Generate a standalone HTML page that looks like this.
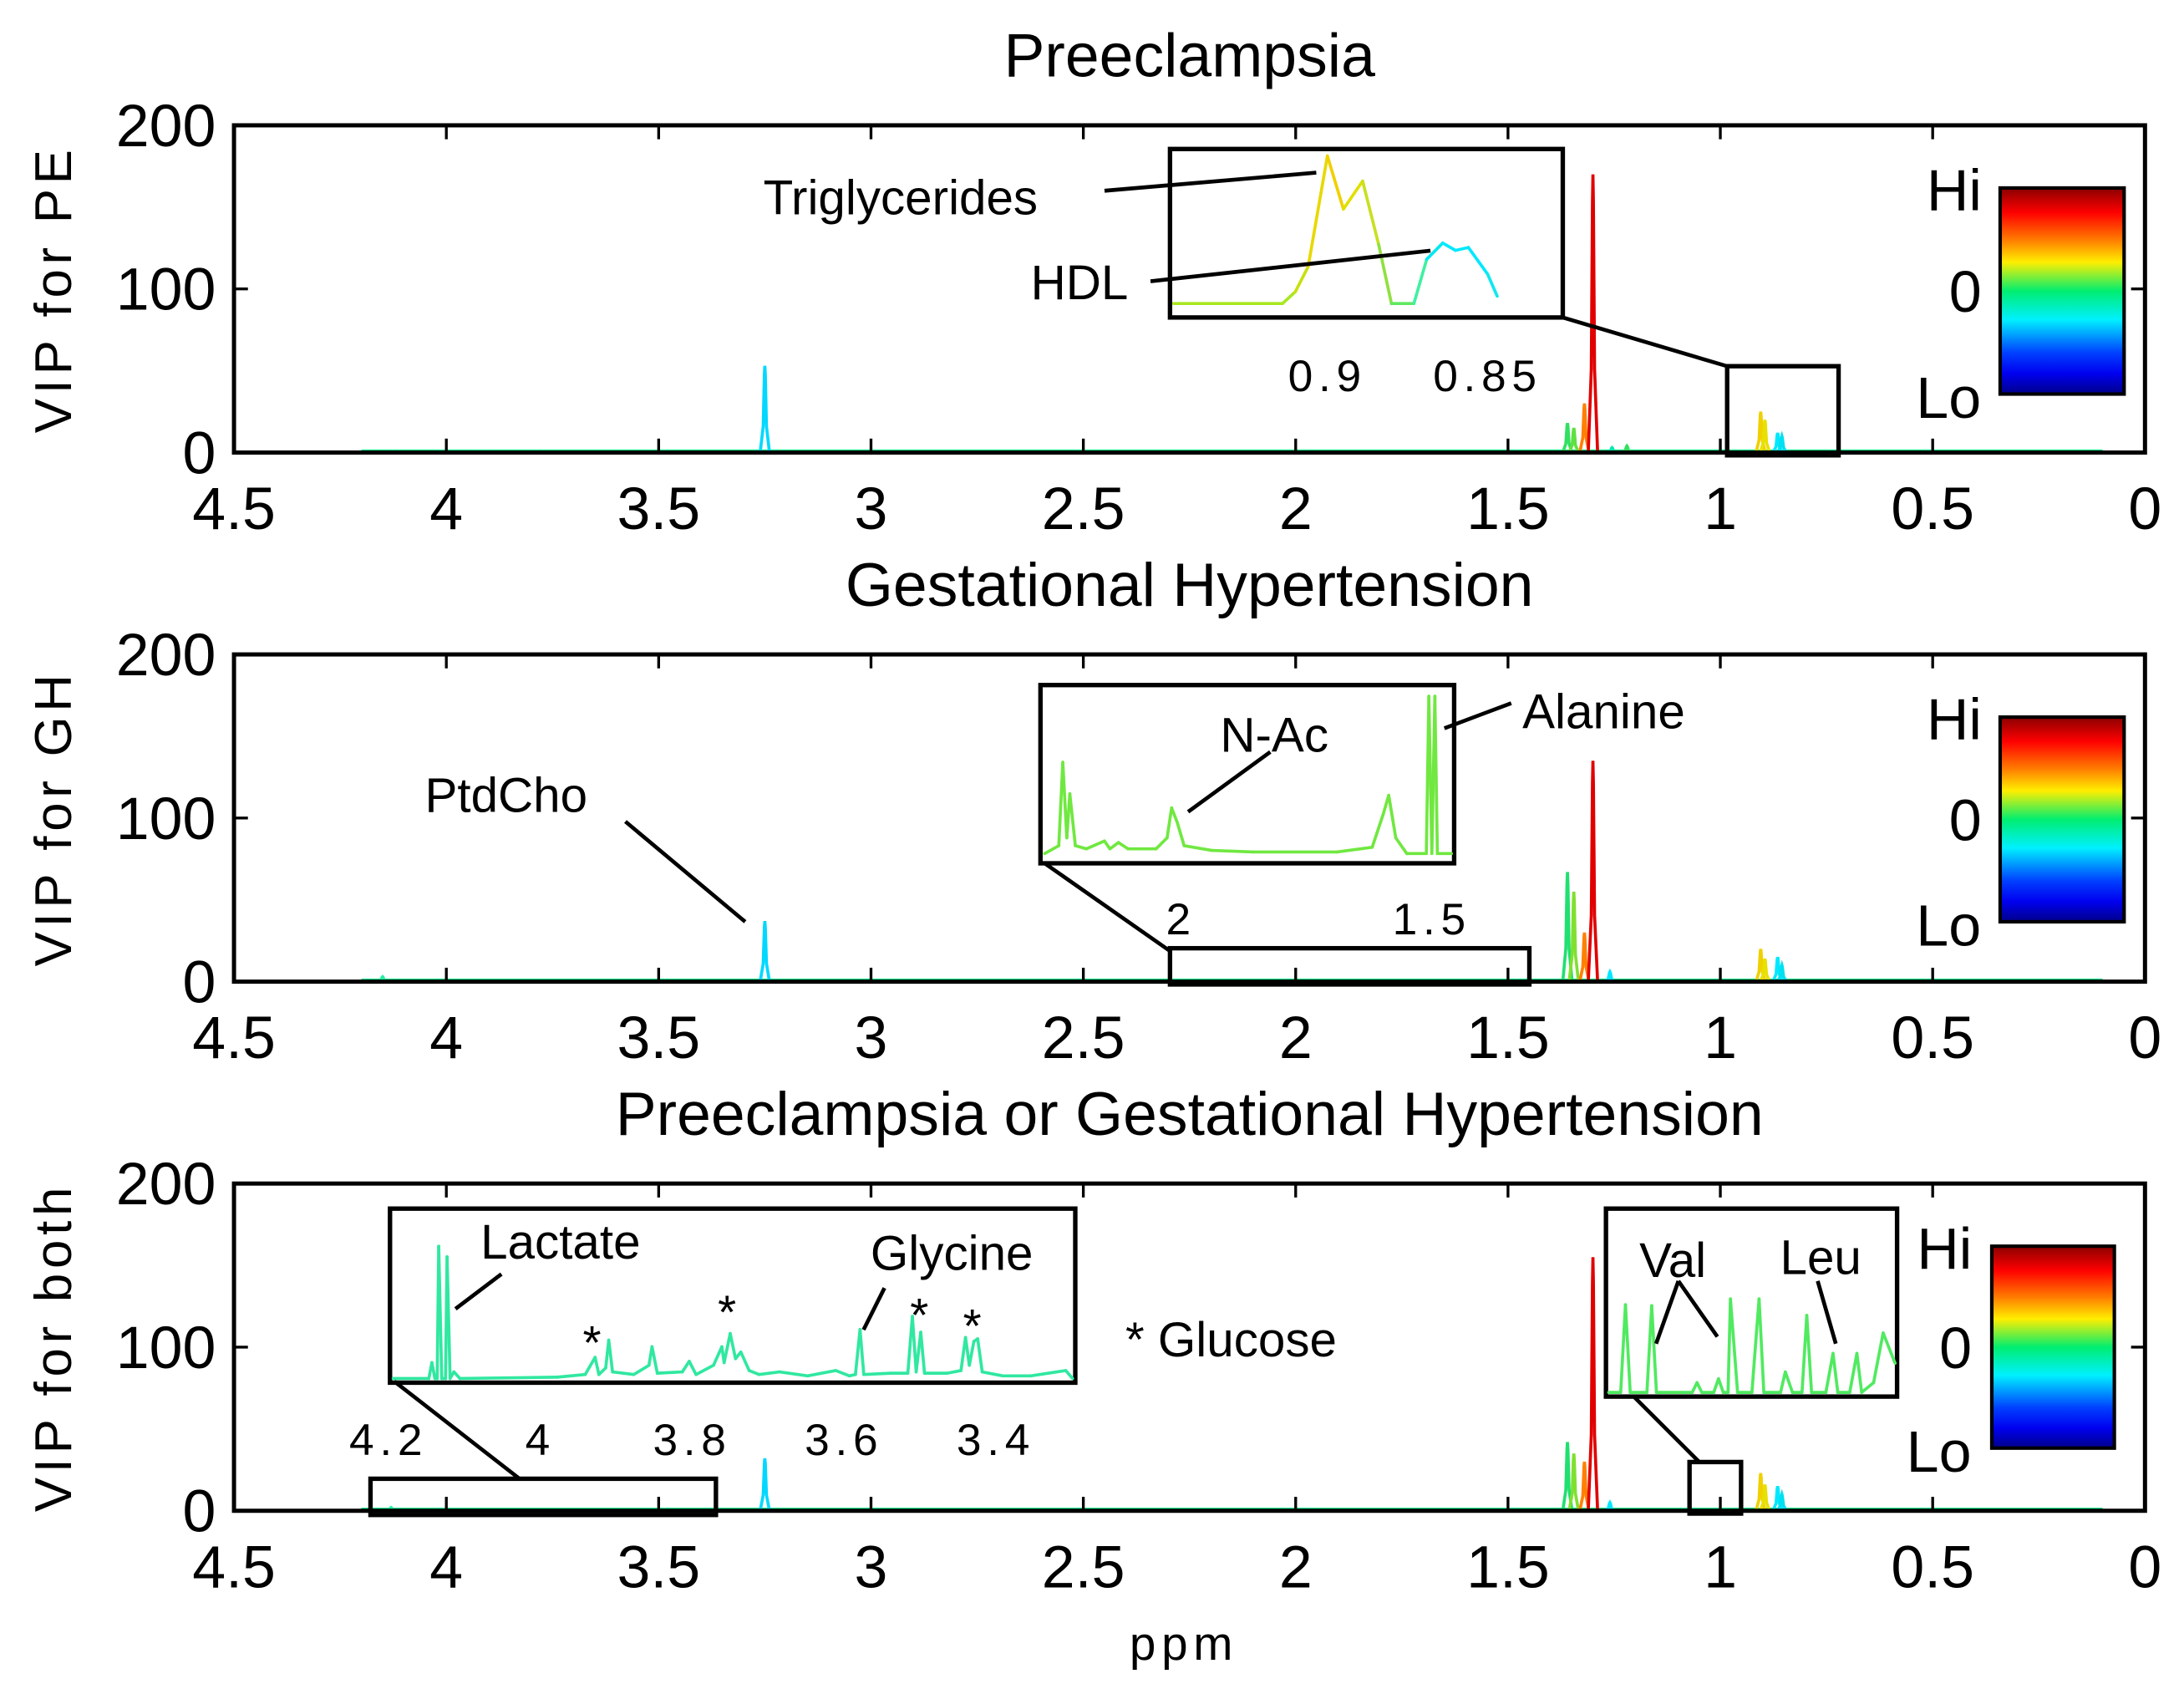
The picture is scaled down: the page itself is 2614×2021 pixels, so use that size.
<!DOCTYPE html>
<html><head><meta charset="utf-8"><style>
html,body{margin:0;padding:0;background:#fff;}
svg{display:block;font-family:"Liberation Sans",sans-serif;}
</style></head><body>
<svg id="chart" xmlns="http://www.w3.org/2000/svg" width="2614" height="2021" viewBox="0 0 1568 1213" preserveAspectRatio="none">
<defs>
<linearGradient id="jet" x1="0" y1="0" x2="0" y2="1">
<stop offset="0" stop-color="#8a0000"/><stop offset="0.12" stop-color="#ff0000"/><stop offset="0.25" stop-color="#ff7a00"/><stop offset="0.36" stop-color="#ffee00"/><stop offset="0.5" stop-color="#00ee70"/><stop offset="0.64" stop-color="#00f0ff"/><stop offset="0.8" stop-color="#0040ff"/><stop offset="0.9" stop-color="#0000f0"/><stop offset="1" stop-color="#00008a"/>
</linearGradient>
</defs>
</svg>
<script>
// ---- data ----
const xTicks = [4.5, 4, 3.5, 3, 2.5, 2, 1.5, 1, 0.5, 0];
const xTickLabels = ["4.5","4","3.5","3","2.5","2","1.5","1","0.5","0"];
const yTicks = [0, 100, 200];
const yTickLabels = ["0","100","200"];
const panelTitles = ["Preeclampsia", "Gestational Hypertension", "Preeclampsia or Gestational Hypertension"];
const panelYLabels = ["VIP for PE", "VIP for GH", "VIP for both"];

const pePpm = [4.12, 3.92, 3.78, 3.25, 1.36, 1.345, 1.32, 1.30, 1.255, 1.22, 0.905, 0.895, 0.865, 0.855];
const peVal = [1, 1, 1, 53, 18, 15, 30, 170, 3, 4, 25, 20, 12, 10];
const peCol = ["#20f0a0","#20f0a0","#20f0a0","#00d8ff","#30e060","#60e040","#ff8000","#e00000","#00e8b0","#30e060","#f0d000","#e8e000","#00e8ff","#00e0f0"];

const ghPpm = [4.15, 3.25, 1.36, 1.345, 1.32, 1.30, 1.26, 0.905, 0.895, 0.865, 0.855];
const ghVal = [3, 37, 67, 55, 30, 135, 6, 20, 14, 15, 10];
const ghCol = ["#20f0a0","#00d8ff","#20e070","#80e030","#ff8000","#e00000","#00e8ff","#f0d000","#e8e000","#00e8ff","#00e0f0"];

const boPpm = [4.13, 3.25, 1.36, 1.345, 1.32, 1.30, 1.26, 0.905, 0.895, 0.865, 0.855];
const boVal = [2, 32, 42, 35, 30, 155, 5, 23, 16, 15, 10];
const boCol = ["#20f0a0","#00d8ff","#20e070","#80e030","#ff8000","#e00000","#00e8ff","#f0d000","#e8e000","#00e8ff","#00e0f0"];

// insets
const in1Ppm = [0.948,0.914,0.910,0.906,0.900,0.895,0.889,0.884,0.880,0.873,0.869,0.864,0.860,0.856,0.850,0.847];
const in1Val = [0,0,8,25,100,64,83,40,0,0,30,41,36,38,20,5];
const in1Col = ["#a8e820","#a8e820","#c8e010","#e8d800","#f0d000","#e0e000","#c8e020","#90e040","#60e860","#40f0a0","#00e8f0","#00e8ff","#00e8ff","#00e8ff","#10e8f0","#20e8e0"];
const in1Ticks = [0.9, 0.85];
const in1TickLabels = ["0.9", "0.85"];

const in2Ppm = [2.272,2.244,2.236,2.228,2.222,2.211,2.189,2.153,2.142,2.125,2.106,2.050,2.028,2.019,2.008,1.994,1.939,1.856,1.689,1.619,1.597,1.586,1.572,1.550,1.511,1.506,1.5,1.494,1.489,1.461];
const in2Val = [0,5,58,10,38,5,3,8,3,7,3,3,10,29,20,5,2,1,1,4,25,37,10,0,0,100,0,100,0,0];
const in2Ticks = [2, 1.5];
const in2TickLabels = ["2", "1.5"];

const in3Ppm = [4.194,4.147,4.143,4.139,4.136,4.134,4.130,4.125,4.123,4.119,4.114,4.106,3.978,3.941,3.928,3.923,3.914,3.910,3.905,3.877,3.857,3.853,3.846,3.813,3.804,3.795,3.772,3.761,3.758,3.750,3.743,3.736,3.725,3.712,3.685,3.648,3.611,3.593,3.585,3.579,3.574,3.538,3.516,3.510,3.505,3.499,3.494,3.464,3.446,3.440,3.435,3.429,3.424,3.418,3.391,3.354,3.308,3.299];
const in3Val = [0,0,12,0,0,100,0,0,92,0,5,0,1,3,16,3,8,29,5,3,10,24,4,5,13,3,10,24,12,34,15,20,6,3,5,2,6,2,3,37,3,4,4,47,5,35,4,4,6,31,10,28,30,5,2,2,6,0];
const in3Ticks = [4.2, 4, 3.8, 3.6, 3.4];
const in3TickLabels = ["4.2", "4", "3.8", "3.6", "3.4"];

const in4Ppm = [1.072,1.067,1.065,1.063,1.056,1.054,1.052,1.037,1.035,1.033,1.028,1.026,1.024,1.022,1.021,1.018,1.012,1.009,1.007,1.000,0.998,0.995,0.991,0.989,0.987,0.981,0.978,0.976,0.971,0.968,0.966,0.961,0.957,0.952];
const in4Val = [0,0,90,0,0,89,0,0,10,0,0,14,0,0,96,0,0,96,0,0,21,0,0,79,0,0,40,0,0,40,0,10,61,30];

// ---- helpers ----
const NS = "http://www.w3.org/2000/svg";
const svg = document.getElementById("chart");
function mk(tag, attrs, parent, txt){ const e=document.createElementNS(NS,tag); for(const k in attrs) e.setAttribute(k,attrs[k]); if(txt!==undefined) e.textContent=txt; (parent||svg).appendChild(e); return e; }

const AX_L = 168, AX_R = 1540, PH = 235;
const panelTops = [90, 470, 850];
function xS(p){ return AX_L + (4.5 - p) * (AX_R - AX_L) / 4.5; }
function yS(v, top){ return top + PH - v * PH / 200; }

const peakHW = 0.011;
function drawPanel(i, ppm, val, col){
  const top = panelTops[i], bot = top + PH;
  const g = mk("g", {});  
  const t = mk("text", {x: 854, y: top - 35, "font-size": 44, "text-anchor": "middle"}, g, panelTitles[i]);
   
  const yl = mk("text", {x: 0, y: 0, "font-size": 37, "letter-spacing": 3.5, "text-anchor": "middle", transform: `translate(51 ${top + PH/2}) rotate(-90)`}, g, panelYLabels[i]);
   
  const bl = mk("line", {x1: xS(4.2), x2: xS(0.1), y1: bot - 1, y2: bot - 1, stroke: "#20f090", "stroke-width": 2.5}, g);
   
  for (let k = 0; k < ppm.length; k++){
    const p = ppm[k], v = val[k];
    const d = `M${xS(p+peakHW)},${yS(0,top)} L${xS(p+peakHW*0.35)},${yS(v*0.3,top)} L${xS(p+peakHW*0.1)},${yS(v*0.9,top)} L${xS(p)},${yS(v,top)} L${xS(p-peakHW*0.1)},${yS(v*0.9,top)} L${xS(p-peakHW*0.35)},${yS(v*0.3,top)} L${xS(p-peakHW)},${yS(0,top)}`;
    const pk = mk("path", {d: d, fill: "none", stroke: col[k], "stroke-width": 2.2}, g);
     
  }
  const box = mk("rect", {x: AX_L, y: top, width: AX_R - AX_L, height: PH, fill: "none", stroke: "#000", "stroke-width": 3}, g);
   
  xTicks.forEach((tv, j) => {
    const x = xS(tv);
    mk("line", {x1: x, x2: x, y1: bot, y2: bot - 10, stroke: "#000", "stroke-width": 2}, g);
    mk("line", {x1: x, x2: x, y1: top, y2: top + 10, stroke: "#000", "stroke-width": 2}, g);
    const tl = mk("text", {x: x, y: bot + 55, "font-size": 43, "text-anchor": "middle"}, g, xTickLabels[j]);
     
  });
  yTicks.forEach((tv, j) => {
    const y = yS(tv, top);
    mk("line", {x1: AX_L, x2: AX_L + 10, y1: y, y2: y, stroke: "#000", "stroke-width": 2}, g);
    mk("line", {x1: AX_R, x2: AX_R - 10, y1: y, y2: y, stroke: "#000", "stroke-width": 2}, g);
    const tl = mk("text", {x: AX_L - 13, y: y + 15, "font-size": 43, "text-anchor": "end"}, g, yTickLabels[j]);
     
  });
  return g;
}
function colorbar(g, x, y, w, h, lx){
  const cb = mk("rect", {x: x, y: y, width: w, height: h, fill: "url(#jet)", stroke: "#000", "stroke-width": 2.5}, g);
   
  const a = mk("text", {x: lx, y: y + 16, "font-size": 42, "text-anchor": "middle"}, g, "Hi");
   
  const b = mk("text", {x: lx + 8, y: y + h/2 + 15, "font-size": 42, "text-anchor": "middle"}, g, "0");
   
  const c = mk("text", {x: lx - 4, y: y + h + 17, "font-size": 42, "text-anchor": "middle"}, g, "Lo");
   
}
function rect(g, x1, y1, x2, y2, name){
  const r = mk("rect", {x: x1, y: y1, width: x2 - x1, height: y2 - y1, fill: "none", stroke: "#000", "stroke-width": 3.2}, g);
    return r;
}
function line(g, x1, y1, x2, y2, name, w){
  const l = mk("line", {x1, y1, x2, y2, stroke: "#000", "stroke-width": w || 2.8}, g);
    return l;
}
function label(g, x, y, s, fs, name, anchor, ls){
  const t = mk("text", {x, y, "font-size": fs, "text-anchor": anchor || "start", "letter-spacing": ls || 0}, g, s);
    return t;
}
function insetCurve(g, ppm, val, col, xm, ym, name){
  for (let k = 0; k < ppm.length - 1; k++){
    const c = Array.isArray(col) ? col[k] : col;
    const s = mk("line", {x1: xm(ppm[k]), y1: ym(val[k]), x2: xm(ppm[k+1]), y2: ym(val[k+1]), stroke: c, "stroke-width": 2.2, "stroke-linecap": "round"}, g);
     
  }
}

// ---- panel 1 ----
const g1 = drawPanel(0, pePpm, peVal, peCol);
colorbar(g1, 1436, 135, 89, 148, 1403);
rect(g1, 840, 107, 1122, 228, "inset-box-lipids");
rect(g1, 1240, 263, 1320, 327, "zoom-region-box");
line(g1, 1122, 228, 1240, 263, "inset-connector");
{
  const xm = p => 953 + (0.9 - p) * 2300, ym = v => 218 - v * 1.06;
  insetCurve(g1, in1Ppm, in1Val, in1Col, xm, ym, "inset-spectrum");
  in1Ticks.forEach((t, j) => label(g1, xm(t), 281, in1TickLabels[j], 32, "inset-tick-label", "middle", 4));
}
label(g1, 548, 154, "Triglycerides", 35, "annotation-triglycerides");
line(g1, 793, 137, 945, 124, "annotation-line");
label(g1, 740, 215, "HDL", 35, "annotation-hdl");
line(g1, 826, 202, 1027, 180, "annotation-line");

// ---- panel 2 ----
const g2 = drawPanel(1, ghPpm, ghVal, ghCol);
colorbar(g2, 1436, 515, 89, 147, 1403);
rect(g2, 747, 492, 1044, 620, "inset-box-nac-alanine");
rect(g2, 840, 681, 1098, 707, "zoom-region-box");
line(g2, 750, 620, 840, 683, "inset-connector");
{
  const xm = p => 848 + (2 - p) * 360, ym = v => 613 - v * 1.13;
  insetCurve(g2, in2Ppm, in2Val, "#70e840", xm, ym, "inset-spectrum");
  in2Ticks.forEach((t, j) => label(g2, xm(t), 671, in2TickLabels[j], 32, "inset-tick-label", "middle", 4));
}
label(g2, 876, 540, "N-Ac", 35, "annotation-nac");
line(g2, 853, 583, 912, 540, "annotation-line");
label(g2, 1093, 523, "Alanine", 35, "annotation-alanine");
line(g2, 1037, 523, 1085, 505, "annotation-line");
label(g2, 305, 583, "PtdCho", 35, "annotation-ptdcho");
line(g2, 449, 590, 535, 662, "annotation-line");

// ---- panel 3 ----
const g3 = drawPanel(2, boPpm, boVal, boCol);
colorbar(g3, 1430, 895, 88, 145, 1396);
rect(g3, 280, 868, 772, 993, "inset-box-lactate-glycine");
rect(g3, 266, 1062, 514, 1088, "zoom-region-box");
line(g3, 283, 992, 373, 1062, "inset-connector");
{
  const xm = p => 279 + (4.2 - p) * 545, ym = v => 990 - v * 0.95;
  insetCurve(g3, in3Ppm, in3Val, "#30e8a0", xm, ym, "inset-spectrum");
  in3Ticks.forEach((t, j) => label(g3, xm(t), 1045, in3TickLabels[j], 32, "inset-tick-label", "middle", 4));
}
label(g3, 345, 904, "Lactate", 35, "annotation-lactate");
line(g3, 327, 940, 360, 915, "annotation-line");
label(g3, 625, 912, "Glycine", 35, "annotation-glycine");
line(g3, 620, 955, 635, 925, "annotation-line");
[[425,976],[522,954],[660,956],[698,964]].forEach(a => label(g3, a[0], a[1], "*", 34, "glucose-marker", "middle"));
label(g3, 808, 974, "* Glucose", 35, "annotation-glucose");
rect(g3, 1153, 868, 1362, 1003, "inset-box-val-leu");
rect(g3, 1213, 1050, 1250, 1087, "zoom-region-box");
line(g3, 1173, 1003, 1220, 1050, "inset-connector");
{
  const xm = p => 1155 + (1.072 - p) * 1713, ym = v => 1000 - v * 0.7;
  insetCurve(g3, in4Ppm, in4Val, "#50ea60", xm, ym, "inset-spectrum");
}
label(g3, 1177, 917, "Val", 35, "annotation-val");
line(g3, 1205, 920, 1189, 965, "annotation-line");
line(g3, 1205, 920, 1233, 960, "annotation-line");
label(g3, 1278, 915, "Leu", 35, "annotation-leu");
line(g3, 1305, 920, 1318, 965, "annotation-line");

const xt = mk("text", {x: 850, y: 1192, "font-size": 34, "text-anchor": "middle", "letter-spacing": 4});
xt.textContent = "ppm";


</script>
</body></html>
